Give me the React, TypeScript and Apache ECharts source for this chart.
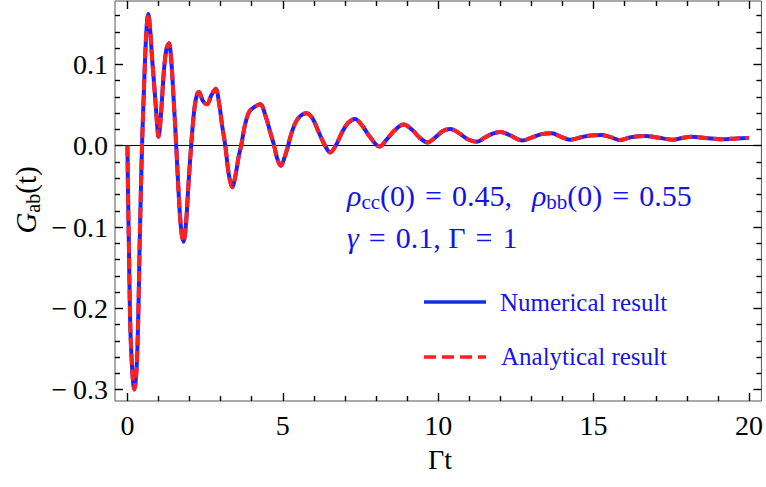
import React, { useEffect, useRef } from 'react';
import * as echarts from 'echarts';

// Γt values sampled along the curve
const tValues = [
  0, 0.02, 0.05, 0.074, 0.1, 0.14, 0.18, 0.22, 0.26, 0.31, 0.36, 0.39, 0.43, 0.47,
  0.52, 0.58, 0.63, 0.67, 0.72, 0.79, 0.86, 0.92, 0.96, 1.0, 1.04, 1.1, 1.18, 1.26,
  1.335, 1.4, 1.48, 1.57, 1.65, 1.73, 1.805, 1.88, 1.96, 2.05, 2.15, 2.23, 2.3, 2.43,
  2.56, 2.7, 2.84, 2.95, 3.05, 3.15, 3.26, 3.37, 3.48, 3.58, 3.66, 3.78, 3.92, 4.1,
  4.27, 4.45, 4.6, 4.72, 4.83, 4.94, 5.05, 5.17, 5.3, 5.5, 5.76, 5.95, 6.15, 6.36,
  6.52, 6.7, 6.9, 7.1, 7.32, 7.55, 7.8, 8.11, 8.35, 8.6, 8.89, 9.15, 9.4, 9.66, 9.9,
  10.15, 10.39, 10.65, 10.95, 11.24, 11.5, 11.75, 12.0, 12.3, 12.71, 13.0, 13.3, 13.65,
  13.95, 14.24, 14.6, 14.9, 15.25, 15.55, 15.84, 16.2, 16.64, 17.1, 17.55, 17.85, 18.14,
  18.6, 19.16, 19.6, 20,
];

// Numerical result G_ab(t)
const numericalValues = [
  0, -0.06, -0.128, -0.19, -0.232, -0.266, -0.29, -0.3, -0.292, -0.262, -0.19, -0.128, -0.06, 0,
  0.057, 0.118, 0.152, 0.162, 0.148, 0.11, 0.075, 0.045, 0.024, 0.011, 0.02, 0.05, 0.095, 0.12,
  0.126, 0.11, 0.062, 0, -0.06, -0.104, -0.118, -0.098, -0.05, 0, 0.044, 0.062, 0.066, 0.055,
  0.051, 0.062, 0.07, 0.052, 0.024, 0, -0.035, -0.051, -0.036, -0.013, 0, 0.025, 0.042, 0.048,
  0.051, 0.036, 0.016, 0, -0.017, -0.0246, -0.015, 0, 0.018, 0.034, 0.04, 0.034, 0.017, 0,
  -0.0082, 0, 0.016, 0.028, 0.033, 0.025, 0.011, -0.001, 0.008, 0.019, 0.026, 0.02, 0.01, 0.004, 0.01,
  0.018, 0.0205, 0.016, 0.008, 0.005, 0.01, 0.015, 0.017, 0.013, 0.0065, 0.01, 0.014, 0.0152,
  0.011, 0.0074, 0.0105, 0.0125, 0.0131, 0.0105, 0.007, 0.0105, 0.012, 0.0098, 0.0074, 0.0095, 0.011,
  0.0095, 0.0078, 0.009, 0.0095,
];

// Analytical result G_ab(t) (coincides with the numerical curve in the picture)
const analyticalValues = [
  0, -0.06, -0.128, -0.19, -0.232, -0.266, -0.29, -0.3, -0.292, -0.262, -0.19, -0.128, -0.06, 0,
  0.057, 0.118, 0.152, 0.162, 0.148, 0.11, 0.075, 0.045, 0.024, 0.011, 0.02, 0.05, 0.095, 0.12,
  0.126, 0.11, 0.062, 0, -0.06, -0.104, -0.118, -0.098, -0.05, 0, 0.044, 0.062, 0.066, 0.055,
  0.051, 0.062, 0.07, 0.052, 0.024, 0, -0.035, -0.051, -0.036, -0.013, 0, 0.025, 0.042, 0.048,
  0.051, 0.036, 0.016, 0, -0.017, -0.0246, -0.015, 0, 0.018, 0.034, 0.04, 0.034, 0.017, 0,
  -0.0082, 0, 0.016, 0.028, 0.033, 0.025, 0.011, -0.001, 0.008, 0.019, 0.026, 0.02, 0.01, 0.004, 0.01,
  0.018, 0.0205, 0.016, 0.008, 0.005, 0.01, 0.015, 0.017, 0.013, 0.0065, 0.01, 0.014, 0.0152,
  0.011, 0.0074, 0.0105, 0.0125, 0.0131, 0.0105, 0.007, 0.0105, 0.012, 0.0098, 0.0074, 0.0095, 0.011,
  0.0095, 0.0078, 0.009, 0.0095,
];

const xMajorTicks = [0, 5, 10, 15, 20];
const xMinorTicks = [1, 2, 3, 4, 6, 7, 8, 9, 11, 12, 13, 14, 16, 17, 18, 19];
const yMajorTicks = [-0.3, -0.2, -0.1, 0, 0.1];
const yMinorTicks = [
  -0.28, -0.26, -0.24, -0.22, -0.18, -0.16, -0.14, -0.12, -0.08, -0.06, -0.04, -0.02,
  0.02, 0.04, 0.06, 0.08, 0.12, 0.14, 0.16,
];

const X_MIN = -0.4;
const X_MAX = 20.4;
const Y_MIN = -0.314;
const Y_MAX = 0.178;

const FONT = 'Liberation Serif';
const TEXT_BLUE = '#1414e6';
const TICK_COLOR = '#000';

function makeAxis(
  kind: 'x' | 'y',
  position: string,
  ticks: number[],
  length: number,
  labels: boolean,
): any {
  return {
    type: 'value',
    gridIndex: 0,
    position,
    min: kind === 'x' ? X_MIN : Y_MIN,
    max: kind === 'x' ? X_MAX : Y_MAX,
    axisLine: { show: false, onZero: false },
    splitLine: { show: false },
    axisTick: {
      show: true,
      inside: true,
      length,
      customValues: ticks,
      lineStyle: { color: TICK_COLOR, width: 1.4 },
    },
    axisLabel: labels
      ? {
          show: true,
          customValues: ticks,
          fontFamily: FONT,
          fontSize: 28,
          color: '#000',
          margin: kind === 'x' ? 10 : 7,
          formatter:
            kind === 'x'
              ? (v: number) => String(v)
              : (v: number) => (v < 0 ? '\u2212\u2009' : '') + Math.abs(v).toFixed(1),
        }
      : { show: false },
  };
}

const pts = (vals: number[]) => tValues.map((t, i) => [t, vals[i]]);

export default function App() {
  const ref = useRef<HTMLDivElement>(null);

  useEffect(() => {
    if (!ref.current) return;
    const chart = echarts.init(ref.current, undefined, { renderer: 'svg' });

    const rich = (size: number) => ({
      r: { fontFamily: FONT, fontStyle: 'italic', fontSize: size, fill: TEXT_BLUE },
      s: { fontFamily: FONT, fontSize: Math.round(size * 0.7), fill: TEXT_BLUE, padding: [13, 0, 0, 0] },
      n: { fontFamily: FONT, fontSize: size, fill: TEXT_BLUE },
    });

    const option: any = {
      animation: false,
      backgroundColor: '#fff',
      grid: {
        left: 115,
        right: 2,
        top: 1,
        bottom: 86,
        show: true,
        borderColor: '#555',
        borderWidth: 1,
      },
      xAxis: [
        makeAxis('x', 'bottom', xMajorTicks, 8, true),
        makeAxis('x', 'bottom', xMinorTicks, 5, false),
        makeAxis('x', 'top', xMajorTicks, 8, false),
        makeAxis('x', 'top', xMinorTicks, 5, false),
      ],
      yAxis: [
        makeAxis('y', 'left', yMajorTicks, 8, true),
        makeAxis('y', 'left', yMinorTicks, 5, false),
        makeAxis('y', 'right', yMajorTicks, 8, false),
        makeAxis('y', 'right', yMinorTicks, 5, false),
      ],
      series: [
        {
          name: 'Numerical result',
          type: 'line',
          xAxisIndex: 0,
          yAxisIndex: 0,
          data: pts(numericalValues),
          smooth: 0.35,
          symbol: 'none',
          lineStyle: { color: '#2020ff', width: 4 },
          z: 3,
          markLine: {
            silent: true,
            symbol: ['none', 'none'],
            label: { show: false },
            lineStyle: { color: '#000', width: 1, type: 'solid' },
            data: [{ yAxis: 0 }],
            z: 2,
          },
        },
        {
          name: 'Analytical result',
          type: 'line',
          xAxisIndex: 0,
          yAxisIndex: 0,
          data: pts(analyticalValues),
          smooth: 0.35,
          symbol: 'none',
          lineStyle: { color: '#ff2020', width: 4, type: [11, 5] },
          z: 4,
        },
      ],
      graphic: [
        {
          type: 'text',
          x: 26,
          y: 200,
          rotation: Math.PI / 2,
          z: 10,
          style: {
            text: '{g|G}{s|ab}{n|(t)}',
            align: 'center',
            verticalAlign: 'middle',
            fill: '#000',
            rich: {
              g: { fontFamily: FONT, fontStyle: 'italic', fontSize: 29, fill: '#000' },
              s: { fontFamily: FONT, fontSize: 20, fill: '#000', padding: [13, 0, 0, 0] },
              n: { fontFamily: FONT, fontSize: 29, fill: '#000' },
            },
          },
        },
        {
          type: 'text',
          x: 440,
          y: 459,
          z: 10,
          style: {
            text: '\u0393t',
            fontFamily: FONT,
            fontSize: 28,
            fill: '#000',
            align: 'center',
            verticalAlign: 'middle',
          },
        },
        {
          type: 'text',
          x: 347,
          y: 195,
          z: 10,
          style: {
            text: '{r|\u03c1}{s|cc}{n|(0)\u2004=\u20040.45,\u2004\u2004}{r|\u03c1}{s|bb}{n|(0)\u2004=\u20040.55}',
            align: 'left',
            verticalAlign: 'middle',
            fill: TEXT_BLUE,
            rich: rich(30),
          },
        },
        {
          type: 'text',
          x: 347,
          y: 237,
          z: 10,
          style: {
            text: '{r|\u03b3}{n|\u2004=\u20040.1, \u0393\u2004=\u20041}',
            align: 'left',
            verticalAlign: 'middle',
            fill: TEXT_BLUE,
            rich: rich(30),
          },
        },
        {
          type: 'line',
          z: 10,
          shape: { x1: 424, y1: 302, x2: 486, y2: 302 },
          style: { stroke: '#1030e0', lineWidth: 3.5 },
        },
        {
          type: 'text',
          x: 500,
          y: 302,
          z: 10,
          style: {
            text: 'Numerical result',
            fontFamily: FONT,
            fontSize: 25,
            fill: TEXT_BLUE,
            align: 'left',
            verticalAlign: 'middle',
          },
        },
        {
          type: 'line',
          z: 10,
          shape: { x1: 424, y1: 357, x2: 486, y2: 357 },
          style: { stroke: '#ff1f1f', lineWidth: 3.5, lineDash: [12, 6] },
        },
        {
          type: 'text',
          x: 501,
          y: 356,
          z: 10,
          style: {
            text: 'Analytical result',
            fontFamily: FONT,
            fontSize: 25,
            fill: TEXT_BLUE,
            align: 'left',
            verticalAlign: 'middle',
          },
        },
      ],
    };

    chart.setOption(option);
    return () => chart.dispose();
  }, []);

  return (
    <div
      ref={ref}
      style={{ position: 'fixed', left: 0, top: 0, width: 766, height: 487, background: '#fff' }}
    />
  );
}
